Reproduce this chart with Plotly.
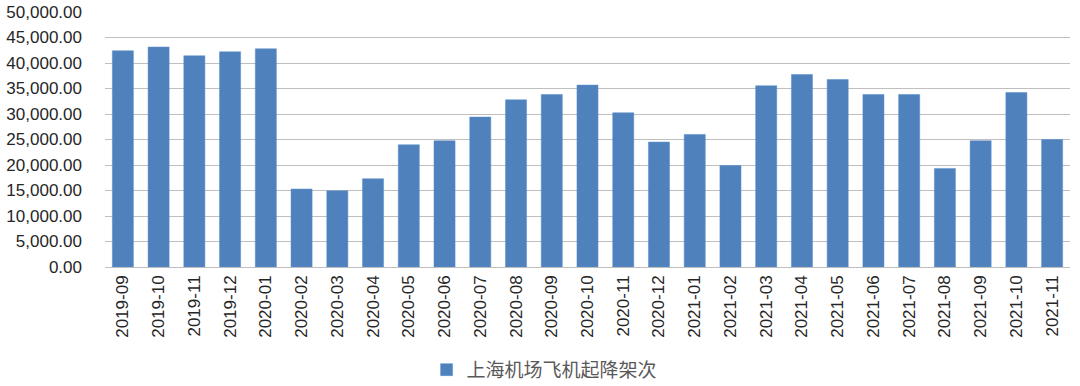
import plotly.graph_objects as go

months = ["2019-09", "2019-10", "2019-11", "2019-12", "2020-01", "2020-02", "2020-03",
          "2020-04", "2020-05", "2020-06", "2020-07", "2020-08", "2020-09", "2020-10",
          "2020-11", "2020-12", "2021-01", "2021-02", "2021-03", "2021-04", "2021-05",
          "2021-06", "2021-07", "2021-08", "2021-09", "2021-10", "2021-11"]
flights = [42400, 43130, 41420, 42200, 42790, 15290, 14950,
           17310, 23970, 24760, 29400, 32790, 33830, 35670,
           30240, 24500, 26000, 19910, 35540, 37750, 36770,
           33830, 33830, 19330, 24760, 34220, 25010]
series_name = "上海机场飞机起降架次"
y_ticks = [0, 5000, 10000, 15000, 20000, 25000, 30000, 35000, 40000, 45000, 50000]

fig = go.Figure()
fig.add_trace(go.Bar(
    x=months, y=flights, name=series_name,
    marker=dict(color="#4F81BD", line=dict(color="#5B8ECB", width=0.5)),
    showlegend=True,
))

fig.update_layout(
    width=1080, height=386,
    margin=dict(l=105, r=10, t=12, b=119, autoexpand=False),
    plot_bgcolor="white", paper_bgcolor="white",
    bargap=0.41,
    showlegend=True,
    legend=dict(orientation="h", xref="container", x=0.395, xanchor="left",
                yref="container", y=0.042, yanchor="middle",
                font=dict(family="Noto Sans CJK SC", size=19, color="#595959"),
                itemwidth=30),
    xaxis=dict(
        type="category", tickangle=-90, showgrid=False, automargin=False,
        showline=False, ticks="", ticklabelstandoff=4,
        tickfont=dict(family="Liberation Sans", size=17, color="#262626"),
    ),
    yaxis=dict(
        range=[0, 50000], tickvals=y_ticks, automargin=False,
        ticktext=[f"{v:,.2f}" for v in y_ticks],
        showgrid=True, gridcolor="#BFBFBF", gridwidth=1,
        zeroline=True, zerolinecolor="#BFBFBF", zerolinewidth=1,
        showline=False, ticks="", ticklabelstandoff=22,
        tickfont=dict(family="Liberation Sans", size=17, color="#262626"),
    ),
)

fig.write_html("out.html")
